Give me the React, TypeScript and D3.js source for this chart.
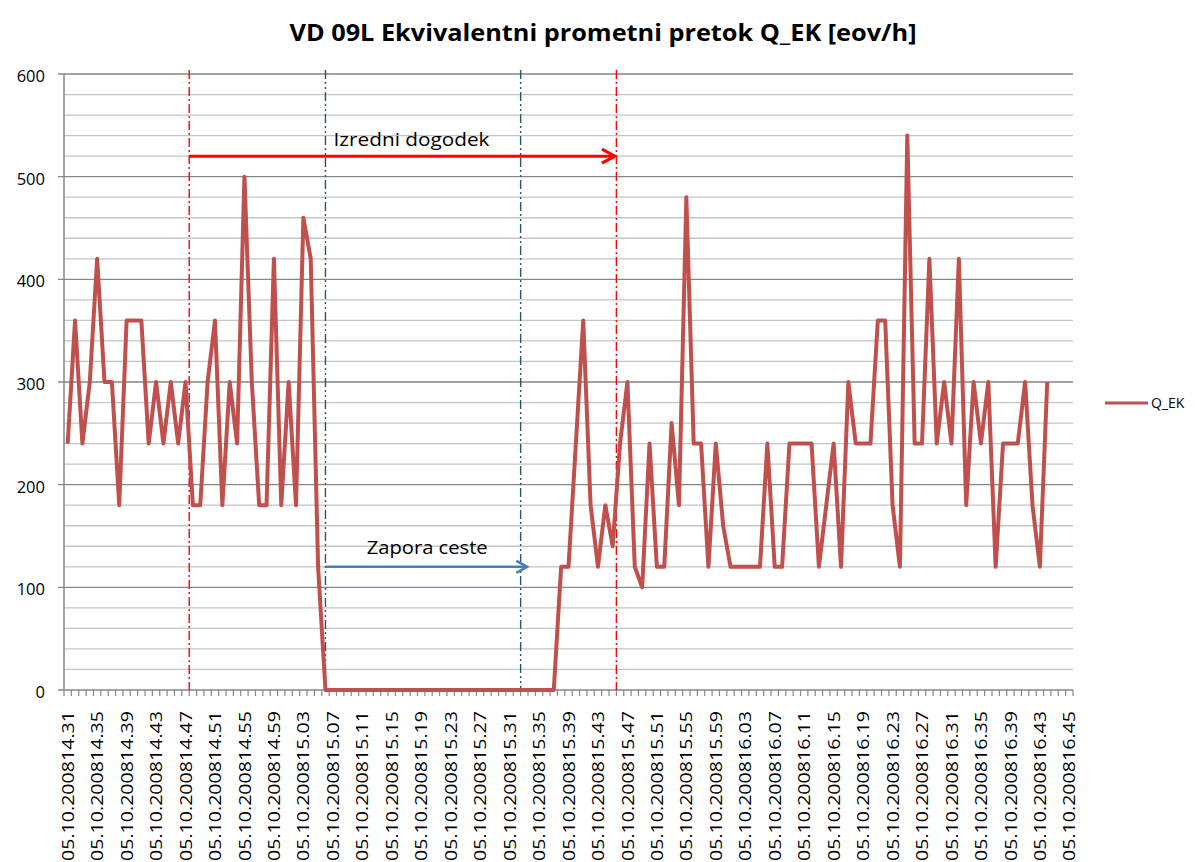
import React from 'react';
import * as d3 from 'd3';

const title = 'VD 09L Ekvivalentni prometni pretok Q_EK [eov/h]';
const seriesName = 'Q_EK';

// one category per minute, a label on every 4th one
const categoryCount = 137;
const labelEvery = 4;
const tickLabels = [
	'05.10.200814.31', '05.10.200814.35', '05.10.200814.39', '05.10.200814.43', '05.10.200814.47',
	'05.10.200814.51', '05.10.200814.55', '05.10.200814.59', '05.10.200815.03', '05.10.200815.07',
	'05.10.200815.11', '05.10.200815.15', '05.10.200815.19', '05.10.200815.23', '05.10.200815.27',
	'05.10.200815.31', '05.10.200815.35', '05.10.200815.39', '05.10.200815.43', '05.10.200815.47',
	'05.10.200815.51', '05.10.200815.55', '05.10.200815.59', '05.10.200816.03', '05.10.200816.07',
	'05.10.200816.11', '05.10.200816.15', '05.10.200816.19', '05.10.200816.23', '05.10.200816.27',
	'05.10.200816.31', '05.10.200816.35', '05.10.200816.39', '05.10.200816.43', '05.10.200816.45'
];

const qek = [
	240, 360, 240, 300, 420, 300, 300, 180, 360, 360,
	360, 240, 300, 240, 300, 240, 300, 180, 180, 300,
	360, 180, 300, 240, 500, 300, 180, 180, 420, 180,
	300, 180, 460, 420, 120, 0, 0, 0, 0, 0,
	0, 0, 0, 0, 0, 0, 0, 0, 0, 0,
	0, 0, 0, 0, 0, 0, 0, 0, 0, 0,
	0, 0, 0, 0, 0, 0, 0, 120, 120, 240,
	360, 180, 120, 180, 140, 240, 300, 120, 100, 240,
	120, 120, 260, 180, 480, 240, 240, 120, 240, 160,
	120, 120, 120, 120, 120, 240, 120, 120, 240, 240,
	240, 240, 120, 180, 240, 120, 300, 240, 240, 240,
	360, 360, 180, 120, 540, 240, 240, 420, 240, 300,
	240, 420, 180, 300, 240, 300, 120, 240, 240, 240,
	300, 180, 120, 300
];

const yMajor = [0, 100, 200, 300, 400, 500, 600];
const yMinorStep = 20;

// annotations, positions in category units
const eventLines = [17, 75];
const closureLines = [35.5, 62];
const eventArrow = { from: 17, to: 74.8, value: 520, label: 'Izredni dogodek', labelAt: 36.6, labelLen: 156 };
const closureArrow = { from: 35.5, to: 62.9, value: 120, label: 'Zapora ceste', labelAt: 41.1, labelLen: 121 };

const W = 1195, H = 862;
const margin = { left: 64, right: 122, top: 74, bottom: 172 };
const font = '"Open Sans", "DejaVu Sans", sans-serif';

const lineColor = '#c0504d';
const axisColor = '#868686';

export default function App() {
	const x = d3.scaleBand<number>()
		.domain(d3.range(categoryCount))
		.range([margin.left, W - margin.right]);
	const xu = d3.scaleLinear().domain([0, categoryCount]).range([margin.left, W - margin.right]);
	const y = d3.scaleLinear().domain([0, 600]).range([H - margin.bottom, margin.top]);
	const bw = x.bandwidth();
	const cx = (i: number) => (x(i) as number) + bw / 2;

	const line = d3.line<number>()
		.x((d, i) => cx(i))
		.y(d => y(d));

	const minor = d3.range(0, 601, yMinorStep).filter(v => v % 100 !== 0);
	const x0 = margin.left, x1 = W - margin.right;

	const arrow = (a: typeof eventArrow, color: string, head: number, spread: number, width: number, gap: number) => {
		const ax = xu(a.from), bx = xu(a.to), ay = y(a.value);
		return (
			<g>
				<g stroke={color} strokeWidth={width} fill="none">
					<line x1={ax} x2={bx} y1={ay} y2={ay} />
					<path d={`M${bx - head},${ay - spread}L${bx},${ay}L${bx - head},${ay + spread}`} />
				</g>
				<text x={xu(a.labelAt)} y={ay - gap} fontSize={18} textLength={a.labelLen} lengthAdjust="spacingAndGlyphs" fill="#000">{a.label}</text>
			</g>
		);
	};

	return (
		<svg width={W} height={H} style={{ position: 'absolute', left: 0, top: 0, background: '#fff' }} fontFamily={font}>
			<text x={603} y={41} textAnchor="middle" fontWeight="bold" fontSize={24} textLength={627} lengthAdjust="spacingAndGlyphs" fill="#000">{title}</text>

			{/* gridlines */}
			{minor.map(v => (
				<line key={'m' + v} x1={x0} x2={x1} y1={y(v)} y2={y(v)} stroke="#c4c4c4" strokeWidth={1.3} />
			))}
			{yMajor.map(v => (
				<line key={'M' + v} x1={x0 - 6} x2={x1} y1={y(v)} y2={y(v)} stroke={axisColor} strokeWidth={1.3} />
			))}

			{/* axes */}
			<line x1={x0} x2={x0} y1={y(600)} y2={y(0)} stroke={axisColor} strokeWidth={1.5} />
			{d3.range(categoryCount + 1).map(i => (
				<line key={'t' + i} x1={xu(i)} x2={xu(i)} y1={y(0)} y2={y(0) + 6} stroke={axisColor} strokeWidth={1.2} />
			))}
			{yMajor.map(v => (
				<text key={'yl' + v} x={45} y={y(v) + 8} textAnchor="end" fontSize={16.5} fill="#000">{v}</text>
			))}
			{tickLabels.map((t, k) => (
				<text key={'xl' + k} transform={`translate(${cx(k * labelEvery)},${y(0) + 21}) rotate(-90)`}
					textAnchor="end" dy="0.36em" fontSize={17} textLength={150} lengthAdjust="spacingAndGlyphs" fill="#000">{t}</text>
			))}

			{/* event markers */}
			{eventLines.map(u => (
				<line key={'e' + u} x1={xu(u)} x2={xu(u)} y1={y(604)} y2={y(0)} stroke="#ff0000" strokeWidth={1.4} strokeDasharray="9,3,2,3" />
			))}
			{closureLines.map(u => (
				<line key={'c' + u} x1={xu(u)} x2={xu(u)} y1={y(604)} y2={y(0)} stroke="#215968" strokeWidth={1.4} strokeDasharray="9,3,2,3,2,3" />
			))}

			<path d={line(qek) as string} fill="none" stroke={lineColor} strokeWidth={4} strokeLinejoin="round" />

			{arrow(eventArrow, '#ff0000', 13, 7, 3, 10)}
			{arrow(closureArrow, '#4a7ebb', 11, 6, 2.5, 13)}

			{/* legend */}
			<line x1={1105} x2={1148} y1={403} y2={403} stroke={lineColor} strokeWidth={3} />
			<text x={1151} y={408} fontSize={14} fill="#000">{seriesName}</text>
		</svg>
	);
}
